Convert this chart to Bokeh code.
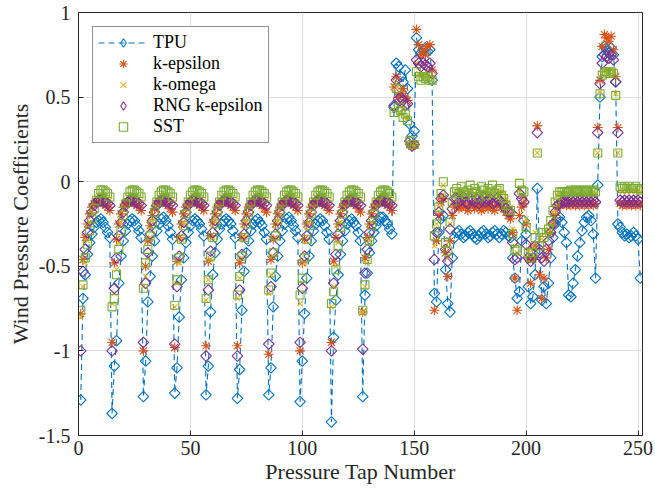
import numpy as np
from bokeh.plotting import figure
from bokeh.models import Legend, LegendItem, FixedTicker, Range1d
from bokeh.embed import file_html
from bokeh.resources import INLINE

# ---------------- data ----------------
taps = list(range(1, 252))

tpu = [
    # taps 1-14
    -1.29, -0.69, -0.55, -0.43, -0.36, -0.31, -0.27, -0.24, -0.23, -0.22, -0.24, -0.27, -0.30, -0.33,
    # 15-28
    -1.37, -1.09, -0.94, -0.60, -0.44, -0.35, -0.29, -0.25, -0.23, -0.22, -0.23, -0.26, -0.29, -0.33,
    # 29-42
    -1.27, -1.06, -0.71, -0.56, -0.44, -0.35, -0.29, -0.25, -0.22, -0.21, -0.23, -0.26, -0.30, -0.34,
    # 43-56
    -1.25, -1.10, -0.80, -0.58, -0.45, -0.36, -0.30, -0.26, -0.23, -0.22, -0.23, -0.25, -0.28, -0.32,
    # 57-70
    -1.26, -1.09, -0.77, -0.55, -0.42, -0.34, -0.28, -0.25, -0.23, -0.22, -0.23, -0.25, -0.29, -0.33,
    # 71-84
    -1.28, -1.11, -0.76, -0.53, -0.42, -0.35, -0.29, -0.25, -0.23, -0.22, -0.24, -0.26, -0.30, -0.34,
    # 85-98
    -1.26, -1.10, -0.74, -0.56, -0.44, -0.35, -0.29, -0.25, -0.22, -0.21, -0.23, -0.26, -0.29, -0.33,
    # 99-112
    -1.30, -1.06, -0.78, -0.57, -0.44, -0.35, -0.29, -0.25, -0.23, -0.22, -0.23, -0.26, -0.30, -0.34,
    # 113-126
    -1.42, -0.92, -0.70, -0.55, -0.43, -0.35, -0.29, -0.25, -0.23, -0.22, -0.24, -0.26, -0.30, -0.35,
    # 127-140
    -1.27, -0.67, -0.54, -0.42, -0.35, -0.30, -0.26, -0.23, -0.21, -0.21, -0.23, -0.25, -0.28, -0.31,
    # 141-158
    0.44, 0.70, 0.68, 0.62, 0.59, 0.66, 0.55, 0.34, 0.27, 0.30, 0.85, 0.78, 0.76, 0.78, 0.79, 0.77, 0.78, 0.60,
    # 159-168
    -0.66, -0.71, -0.30, -0.22, -0.20, -0.52, -0.72, -0.77, -0.45, -0.33,
    # 169-192
    -0.30, -0.29, -0.31, -0.33, -0.32, -0.30, -0.29, -0.31, -0.33, -0.34, -0.32, -0.30,
    -0.29, -0.31, -0.33, -0.32, -0.30, -0.29, -0.31, -0.33, -0.31, -0.29, -0.30, -0.32,
    # 193-218
    -0.33, -0.45, -0.57, -0.69, -0.65, -0.35, -0.23, -0.31, -0.62, -0.72, -0.68, -0.55, -0.04,
    -0.40, -0.70, -0.62, -0.72, -0.60, -0.45, -0.33, -0.25, -0.22, -0.21, -0.24, -0.30, -0.36,
    # 219-231
    -0.67, -0.68, -0.60, -0.52, -0.44, -0.36, -0.29, -0.24, -0.21, -0.20, -0.23, -0.31, -0.57,
    # 232-241
    -0.02, 0.50, 0.74, 0.80, 0.78, 0.76, 0.79, 0.75, 0.59, -0.25,
    # 242-251
    -0.27, -0.30, -0.32, -0.31, -0.33, -0.32, -0.30, -0.32, -0.34, -0.57,
]

k_epsilon = [
    -0.78, -0.46, -0.33, -0.25, -0.19, -0.15, -0.13, -0.12, -0.12, -0.12, -0.13, -0.14, -0.15, -0.17,
    -0.95, -0.48, -0.34, -0.25, -0.19, -0.15, -0.13, -0.12, -0.12, -0.12, -0.13, -0.14, -0.15, -0.17,
    -1.00, -0.50, -0.35, -0.26, -0.20, -0.16, -0.13, -0.12, -0.12, -0.12, -0.13, -0.14, -0.16, -0.18,
    -0.98, -0.47, -0.33, -0.25, -0.19, -0.15, -0.13, -0.12, -0.12, -0.12, -0.13, -0.14, -0.15, -0.17,
    -0.97, -0.47, -0.32, -0.24, -0.19, -0.15, -0.13, -0.12, -0.12, -0.12, -0.13, -0.14, -0.15, -0.17,
    -0.97, -0.48, -0.33, -0.25, -0.19, -0.15, -0.13, -0.12, -0.12, -0.12, -0.13, -0.14, -0.16, -0.18,
    -1.02, -0.46, -0.34, -0.25, -0.19, -0.15, -0.13, -0.12, -0.12, -0.12, -0.13, -0.14, -0.15, -0.17,
    -1.00, -0.48, -0.34, -0.25, -0.19, -0.15, -0.13, -0.12, -0.12, -0.12, -0.13, -0.14, -0.15, -0.17,
    -0.95, -0.47, -0.33, -0.25, -0.19, -0.15, -0.13, -0.12, -0.12, -0.12, -0.13, -0.14, -0.16, -0.18,
    -0.77, -0.45, -0.33, -0.25, -0.19, -0.15, -0.13, -0.12, -0.12, -0.12, -0.13, -0.14, -0.15, -0.17,
    0.56, 0.62, 0.50, 0.52, 0.55, 0.50, 0.48, 0.22, 0.21, 0.22, 0.90, 0.81, 0.75, 0.78, 0.75, 0.80, 0.81, 0.66,
    -0.76, -0.35, -0.20, -0.12, -0.10, -0.42, -0.56, -0.35, -0.20, -0.15,
    -0.14, -0.16, -0.15, -0.13, -0.15, -0.17, -0.14, -0.13, -0.16, -0.15, -0.14, -0.17,
    -0.15, -0.13, -0.16, -0.14, -0.15, -0.17, -0.14, -0.13, -0.15, -0.16, -0.18, -0.20,
    -0.22, -0.30, -0.57, -0.76, -0.20, -0.15, -0.13, -0.25, -0.45, -0.60, -0.46, -0.38, 0.33,
    -0.55, -0.69, -0.57, -0.45, -0.40, -0.30, -0.25, -0.20, -0.15, -0.14, -0.13, -0.13, -0.14,
    -0.13, -0.14, -0.13, -0.14, -0.13, -0.14, -0.13, -0.14, -0.13, -0.14, -0.13, -0.14, -0.13,
    0.32, 0.60, 0.80, 0.87, 0.85, 0.83, 0.86, 0.78, 0.62, 0.32,
    -0.13, -0.14, -0.13, -0.14, -0.13, -0.14, -0.13, -0.14, -0.13, -0.14,
]

k_omega = [
    -0.80, -0.62, -0.48, -0.35, -0.24, -0.16, -0.11, -0.09, -0.08, -0.08, -0.08, -0.09, -0.10, -0.11,
    -0.72, -0.66, -0.52, -0.36, -0.24, -0.16, -0.11, -0.09, -0.08, -0.08, -0.08, -0.09, -0.10, -0.11,
    -0.62, -0.56, -0.45, -0.33, -0.23, -0.15, -0.11, -0.09, -0.08, -0.08, -0.08, -0.09, -0.10, -0.11,
    -0.74, -0.60, -0.48, -0.34, -0.24, -0.16, -0.11, -0.09, -0.08, -0.08, -0.08, -0.09, -0.10, -0.11,
    -0.70, -0.58, -0.46, -0.33, -0.23, -0.15, -0.11, -0.09, -0.08, -0.08, -0.08, -0.09, -0.10, -0.11,
    -0.69, -0.57, -0.45, -0.33, -0.23, -0.15, -0.11, -0.09, -0.08, -0.08, -0.08, -0.09, -0.10, -0.11,
    -0.66, -0.55, -0.44, -0.33, -0.23, -0.15, -0.11, -0.09, -0.08, -0.08, -0.08, -0.09, -0.10, -0.11,
    -0.72, -0.60, -0.48, -0.35, -0.24, -0.16, -0.11, -0.09, -0.08, -0.08, -0.08, -0.09, -0.10, -0.11,
    -0.74, -0.62, -0.50, -0.36, -0.24, -0.16, -0.11, -0.09, -0.08, -0.08, -0.08, -0.09, -0.10, -0.11,
    -0.77, -0.62, -0.48, -0.35, -0.24, -0.16, -0.11, -0.09, -0.08, -0.08, -0.08, -0.09, -0.10, -0.11,
    0.42, 0.58, 0.45, 0.40, 0.43, 0.38, 0.38, 0.22, 0.22, 0.22, 0.70, 0.64, 0.62, 0.63, 0.62, 0.64, 0.62, 0.60,
    -0.38, -0.25, -0.15, -0.08, -0.02, -0.38, -0.45, -0.25, -0.12, -0.07,
    -0.06, -0.08, -0.05, -0.07, -0.09, -0.06, -0.05, -0.08, -0.07, -0.05, -0.09, -0.06,
    -0.07, -0.08, -0.05, -0.06, -0.09, -0.07, -0.05, -0.08, -0.06, -0.07, -0.10, -0.12,
    -0.15, -0.28, -0.38, -0.42, -0.05, -0.08, -0.10, -0.22, -0.40, -0.38, -0.40, -0.30, 0.17,
    -0.35, -0.32, -0.35, -0.30, -0.28, -0.25, -0.18, -0.12, -0.08, -0.07, -0.07, -0.07, -0.07,
    -0.07, -0.06, -0.07, -0.06, -0.07, -0.06, -0.07, -0.06, -0.07, -0.06, -0.07, -0.06, -0.07,
    0.17, 0.53, 0.64, 0.66, 0.66, 0.65, 0.66, 0.65, 0.52, 0.17,
    -0.05, -0.06, -0.05, -0.06, -0.05, -0.06, -0.05, -0.06, -0.05, -0.06,
]

rng_k_epsilon = [
    -1.00, -0.53, -0.40, -0.30, -0.23, -0.18, -0.14, -0.12, -0.11, -0.11, -0.12, -0.12, -0.13, -0.14,
    -1.00, -0.63, -0.45, -0.32, -0.24, -0.18, -0.14, -0.12, -0.11, -0.11, -0.12, -0.12, -0.13, -0.14,
    -0.95, -0.60, -0.42, -0.31, -0.23, -0.18, -0.14, -0.12, -0.11, -0.11, -0.12, -0.12, -0.13, -0.14,
    -0.96, -0.62, -0.44, -0.32, -0.24, -0.18, -0.14, -0.12, -0.11, -0.11, -0.12, -0.12, -0.13, -0.14,
    -1.03, -0.64, -0.41, -0.30, -0.23, -0.18, -0.14, -0.12, -0.11, -0.11, -0.12, -0.12, -0.13, -0.14,
    -1.03, -0.64, -0.43, -0.31, -0.23, -0.18, -0.14, -0.12, -0.11, -0.11, -0.12, -0.12, -0.13, -0.14,
    -0.96, -0.62, -0.42, -0.31, -0.23, -0.18, -0.14, -0.12, -0.11, -0.11, -0.12, -0.12, -0.13, -0.14,
    -0.95, -0.63, -0.44, -0.32, -0.24, -0.18, -0.14, -0.12, -0.11, -0.11, -0.12, -0.12, -0.13, -0.14,
    -1.00, -0.60, -0.43, -0.31, -0.23, -0.18, -0.14, -0.12, -0.11, -0.11, -0.12, -0.12, -0.13, -0.14,
    -0.99, -0.54, -0.40, -0.30, -0.23, -0.18, -0.14, -0.12, -0.11, -0.11, -0.12, -0.12, -0.13, -0.14,
    0.45, 0.60, 0.49, 0.50, 0.48, 0.45, 0.46, 0.24, 0.21, 0.22, 0.72, 0.70, 0.68, 0.70, 0.69, 0.68, 0.70, 0.64,
    -0.46, -0.30, -0.18, -0.10, -0.08, -0.40, -0.47, -0.28, -0.16, -0.10,
    -0.10, -0.12, -0.11, -0.09, -0.12, -0.13, -0.10, -0.11, -0.12, -0.10, -0.13, -0.11,
    -0.09, -0.12, -0.11, -0.10, -0.13, -0.12, -0.10, -0.11, -0.12, -0.14, -0.16, -0.18,
    -0.18, -0.36, -0.46, -0.45, -0.07, -0.10, -0.12, -0.37, -0.45, -0.47, -0.45, -0.38, 0.29,
    -0.42, -0.45, -0.47, -0.40, -0.35, -0.30, -0.25, -0.18, -0.14, -0.13, -0.12, -0.12, -0.12,
    -0.12, -0.11, -0.12, -0.11, -0.12, -0.11, -0.12, -0.11, -0.12, -0.11, -0.12, -0.11, -0.12,
    0.29, 0.58, 0.70, 0.75, 0.74, 0.73, 0.75, 0.72, 0.59, 0.29,
    -0.11, -0.12, -0.11, -0.12, -0.11, -0.12, -0.11, -0.12, -0.11, -0.12,
]

sst = [
    -0.76, -0.61, -0.45, -0.37, -0.29, -0.22, -0.16, -0.11, -0.07, -0.05, -0.05, -0.06, -0.07, -0.09,
    -0.74, -0.69, -0.55, -0.40, -0.29, -0.20, -0.13, -0.09, -0.06, -0.05, -0.05, -0.06, -0.07, -0.09,
    -0.63, -0.48, -0.40, -0.32, -0.25, -0.18, -0.12, -0.08, -0.06, -0.05, -0.05, -0.06, -0.07, -0.09,
    -0.73, -0.58, -0.45, -0.34, -0.26, -0.19, -0.12, -0.08, -0.06, -0.05, -0.05, -0.06, -0.07, -0.09,
    -0.69, -0.58, -0.44, -0.33, -0.25, -0.18, -0.12, -0.08, -0.06, -0.05, -0.05, -0.06, -0.07, -0.09,
    -0.67, -0.56, -0.44, -0.33, -0.25, -0.18, -0.12, -0.08, -0.06, -0.05, -0.05, -0.06, -0.07, -0.09,
    -0.64, -0.54, -0.42, -0.32, -0.25, -0.18, -0.12, -0.08, -0.06, -0.05, -0.05, -0.06, -0.07, -0.09,
    -0.67, -0.57, -0.45, -0.34, -0.26, -0.19, -0.12, -0.08, -0.06, -0.05, -0.05, -0.06, -0.07, -0.09,
    -0.72, -0.65, -0.52, -0.38, -0.27, -0.19, -0.12, -0.08, -0.06, -0.05, -0.05, -0.06, -0.07, -0.09,
    -0.76, -0.61, -0.46, -0.35, -0.26, -0.19, -0.12, -0.08, -0.06, -0.05, -0.05, -0.06, -0.07, -0.09,
    0.41, 0.55, 0.44, 0.42, 0.38, 0.40, 0.36, 0.24, 0.22, 0.22, 0.65, 0.62, 0.60, 0.62, 0.61, 0.62, 0.60, 0.60,
    -0.32, -0.25, -0.15, -0.07, 0.00, -0.36, -0.41, -0.24, -0.12, -0.06,
    -0.04, -0.07, -0.03, -0.06, -0.08, -0.05, -0.02, -0.07, -0.04, -0.06, -0.09, -0.03,
    -0.05, -0.08, -0.04, -0.06, -0.02, -0.07, -0.05, -0.04, -0.08, -0.10, -0.14, -0.17,
    -0.17, -0.31, -0.40, -0.41, -0.01, -0.05, -0.06, -0.27, -0.42, -0.45, -0.42, -0.33, 0.17,
    -0.38, -0.30, -0.33, -0.30, -0.28, -0.23, -0.17, -0.12, -0.08, -0.06, -0.06, -0.06, -0.06,
    -0.06, -0.05, -0.06, -0.05, -0.06, -0.05, -0.06, -0.05, -0.06, -0.05, -0.06, -0.05, -0.06,
    0.17, 0.52, 0.63, 0.65, 0.65, 0.64, 0.65, 0.64, 0.51, 0.17,
    -0.03, -0.04, -0.03, -0.04, -0.03, -0.04, -0.04, -0.03, -0.04, -0.05,
]

x_ticks = [0, 50, 100, 150, 200, 250]
y_ticks = [-1.5, -1.0, -0.5, 0.0, 0.5, 1.0]
y_tick_labels = ["-1.5", "-1", "-0.5", "0", "0.5", "1"]
series_names = ["TPU", "k-epsilon", "k-omega", "RNG k-epsilon", "SST"]

# ---------------- figure ----------------
FONT = "Liberation Serif"
p = figure(width=653, height=486, output_backend="svg", toolbar_location=None,
           x_range=Range1d(0, 252), y_range=Range1d(-1.5, 1.0),
           min_border_left=78, min_border_right=11, min_border_top=12, min_border_bottom=51)

p.outline_line_color = "#262626"
p.outline_line_width = 1
p.background_fill_color = "white"

for ax in (p.xaxis[0], p.yaxis[0]):
    ax.axis_line_color = "#262626"
    ax.major_tick_line_color = "#262626"
    ax.major_tick_in = 5
    ax.major_tick_out = 0
    ax.minor_tick_line_color = None
    ax.major_label_text_font = FONT
    ax.major_label_text_font_size = "20px"
    ax.major_label_text_color = "#262626"
    ax.axis_label_text_font = FONT
    ax.axis_label_text_font_style = "normal"
    ax.axis_label_text_font_size = "22px"
    ax.axis_label_text_color = "#262626"

p.xaxis.ticker = FixedTicker(ticks=x_ticks)
p.yaxis.ticker = FixedTicker(ticks=y_ticks)
p.yaxis.major_label_overrides = {t: l for t, l in zip(y_ticks, y_tick_labels)}
p.xaxis.axis_label = "Pressure Tap Number"
p.yaxis.axis_label = "Wind Pressure Coefficients"
p.xaxis.major_label_standoff = 5
p.yaxis.major_label_standoff = 8
p.xaxis.axis_label_standoff = 1
p.yaxis.axis_label_standoff = 3

p.xgrid.ticker = FixedTicker(ticks=x_ticks)
p.ygrid.ticker = FixedTicker(ticks=y_ticks)
p.grid.grid_line_color = "#dedede"
p.grid.grid_line_width = 1

C_TPU, C_KE, C_KO, C_RNG, C_SST = "#0072BD", "#D95319", "#EDB120", "#7E2F8E", "#77AC30"

r_line = p.line(taps, tpu, line_color=C_TPU, line_width=1.1, line_dash="6 4")
r_tpu = p.scatter(taps, tpu, marker="square", angle=np.pi / 4, size=7.5,
                  line_color=C_TPU, fill_color=None, line_width=1.1)
r_ke = p.scatter(taps, k_epsilon, marker="asterisk", size=10, line_color=C_KE, line_width=1.1)
r_ko = p.scatter(taps, k_omega, marker="x", size=7, line_color=C_KO, line_width=1.1)
r_rng = p.scatter(taps, rng_k_epsilon, marker="square", angle=np.pi / 4, size=7.5,
                  line_color=C_RNG, fill_color=None, line_width=1.1)
r_sst = p.scatter(taps, sst, marker="square", size=8, line_color=C_SST, fill_color=None, line_width=1.1)

# hidden legend proxies (the legend draws markers unrotated, so show diamond glyphs there)
lg_tpu = p.scatter(taps, tpu, marker="diamond", line_color=C_TPU, fill_color=None,
                   line_width=1.1, visible=False)
lg_rng = p.scatter(taps, rng_k_epsilon, marker="diamond", line_color=C_RNG, fill_color=None,
                   line_width=1.1, visible=False)

legend = Legend(items=[
    LegendItem(label=series_names[0], renderers=[r_line, lg_tpu]),
    LegendItem(label=series_names[1], renderers=[r_ke]),
    LegendItem(label=series_names[2], renderers=[r_ko]),
    LegendItem(label=series_names[3], renderers=[lg_rng]),
    LegendItem(label=series_names[4], renderers=[r_sst]),
], location="top_left")
legend.margin = 14
legend.padding = 5
legend.spacing = 0
legend.glyph_width = 50
legend.glyph_height = 21
legend.label_height = 21
legend.label_standoff = 5
legend.label_text_font = FONT
legend.label_text_font_size = "18px"
legend.label_text_color = "black"
legend.inactive_fill_alpha = 0.0
legend.border_line_color = "#262626"
legend.border_line_width = 1
legend.background_fill_color = "white"
legend.background_fill_alpha = 1.0
p.add_layout(legend)

open("out.html", "w").write(file_html(p, INLINE))
